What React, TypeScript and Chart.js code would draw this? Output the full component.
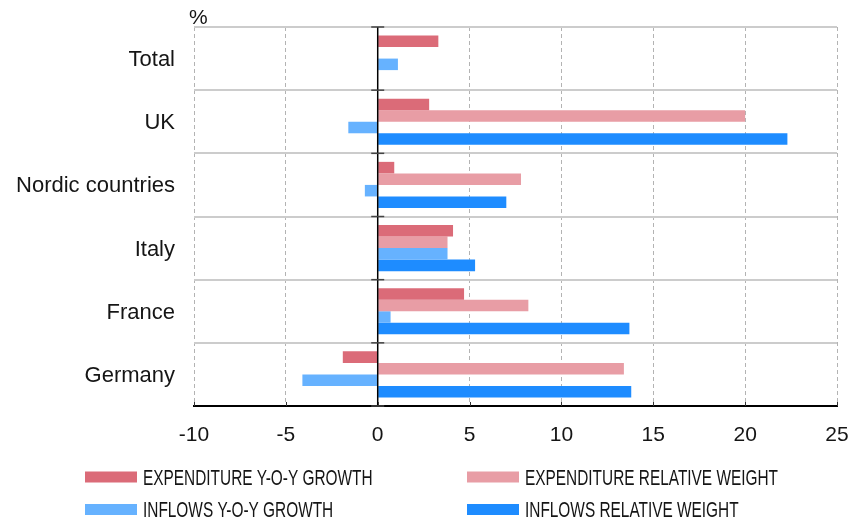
import React, { useEffect, useRef } from "react";
import { Chart, registerables } from "chart.js";

Chart.register(...registerables);

const categories = ["Total", "UK", "Nordic countries", "Italy", "France", "Germany"];
const expenditureGrowth = [3.3, 2.8, 0.9, 4.1, 4.7, -1.9];
const expenditureWeight = [null, 20.0, 7.8, 3.8, 8.2, 13.4];
const inflowsGrowth = [1.1, -1.6, -0.7, 3.8, 0.7, -4.1];
const inflowsWeight = [null, 22.3, 7.0, 5.3, 13.7, 13.8];

const seriesLabels = [
  "EXPENDITURE Y-O-Y GROWTH",
  "EXPENDITURE RELATIVE WEIGHT",
  "INFLOWS Y-O-Y GROWTH",
  "INFLOWS RELATIVE WEIGHT",
];
const seriesColors = ["#DB6B78", "#E89DA5", "#66B2FF", "#1E8CFF"];

const xMin = -10;
const xMax = 25;
const xStep = 5;
const unitLabel = "%";

const FONT = '"Liberation Sans", Arial, sans-serif';
const TEXT = "#151515";

const decorPlugin = {
  id: "decor",
  afterDatasetsDraw(chart: any) {
    const { ctx, chartArea, scales } = chart;
    const xs = scales.x;
    const ys = scales.y;
    const x0 = xs.getPixelForValue(0);
    ctx.save();
    ctx.strokeStyle = "#000";
    ctx.lineWidth = 1.5;
    ctx.beginPath();
    ctx.moveTo(x0, chartArea.top);
    ctx.lineTo(x0, chartArea.bottom);
    ctx.stroke();
    ctx.strokeStyle = "#444";
    ctx.lineWidth = 1.5;
    for (let i = 0; i <= categories.length; i++) {
      const yy = ys.getPixelForValue(i - 0.5);
      ctx.beginPath();
      ctx.moveTo(x0 - 6.5, yy);
      ctx.lineTo(x0 + 6.5, yy);
      ctx.stroke();
    }
    ctx.strokeStyle = "#333";
    ctx.lineWidth = 1;
    for (let v = xMin; v <= xMax; v += xStep) {
      const px = Math.round(xs.getPixelForValue(v)) + 0.5;
      ctx.beginPath();
      ctx.moveTo(px, chartArea.bottom - 4);
      ctx.lineTo(px, chartArea.bottom);
      ctx.stroke();
    }
    ctx.restore();
  },
  afterDraw(chart: any) {
    const { ctx, chartArea } = chart;
    ctx.save();
    ctx.fillStyle = TEXT;
    ctx.font = `21px ${FONT}`;
    ctx.textAlign = "left";
    ctx.textBaseline = "alphabetic";
    ctx.fillText(unitLabel, chartArea.left - 5, chartArea.top - 3);

    const cols = [85, 467];
    const rows = [477, 509.5];
    const boxW = 52;
    const boxH = 11;
    seriesLabels.forEach((label, i) => {
      const cx = cols[i % 2];
      const cy = rows[Math.floor(i / 2)];
      ctx.fillStyle = seriesColors[i];
      ctx.fillRect(cx, cy - boxH / 2, boxW, boxH);
      ctx.save();
      ctx.translate(cx + boxW + 6, cy + 1.5);
      ctx.scale(0.7, 1);
      ctx.fillStyle = TEXT;
      ctx.font = `22px ${FONT}`;
      ctx.textBaseline = "middle";
      ctx.textAlign = "left";
      ctx.fillText(label, 0, 0);
      ctx.restore();
    });
    ctx.restore();
  },
};

export default function App() {
  const ref = useRef<HTMLCanvasElement | null>(null);

  useEffect(() => {
    if (!ref.current) return;
    const seriesData = [expenditureGrowth, expenditureWeight, inflowsGrowth, inflowsWeight];
    const chart = new Chart(ref.current, {
      type: "bar",
      data: {
        labels: categories,
        datasets: seriesData.map((d, i) => ({
          label: seriesLabels[i],
          data: d as any,
          backgroundColor: seriesColors[i],
          borderWidth: 0,
          categoryPercentage: 0.73,
          barPercentage: 1.0,
        })),
      },
      options: {
        indexAxis: "y",
        animation: false,
        responsive: false,
        maintainAspectRatio: false,
        layout: { padding: { top: 27, right: 25, left: 0, bottom: 0 } },
        plugins: {
          legend: { display: false },
          tooltip: { enabled: false },
        },
        scales: {
          x: {
            type: "linear",
            min: xMin,
            max: xMax,
            ticks: {
              stepSize: xStep,
              padding: 0,
              color: TEXT,
              font: { family: FONT, size: 21 },
            },
            grid: {
              color: "#b3b3b3",
              lineWidth: 1,
              drawTicks: true,
              tickLength: 17,
              tickColor: "rgba(0,0,0,0)",
            },
            border: { display: true, color: "#000", width: 2, dash: [4, 3] },
            afterFit(s: any) {
              s.height = 114;
            },
          },
          y: {
            type: "category",
            grid: {
              offset: true,
              color: "#cccccc",
              lineWidth: 2,
              drawTicks: true,
              tickLength: 19,
              tickColor: "rgba(0,0,0,0)",
            },
            border: { display: false },
            ticks: {
              padding: 0,
              labelOffset: 1.5,
              color: TEXT,
              font: { family: FONT, size: 22 },
            },
            afterFit(s: any) {
              s.width = 194;
            },
          },
        },
      } as any,
      plugins: [decorPlugin],
    });
    return () => chart.destroy();
  }, []);

  return (
    <div style={{ position: "fixed", left: 0, top: 0, width: 862, height: 520, background: "#fff" }}>
      <canvas ref={ref} width={862} height={520} />
    </div>
  );
}
